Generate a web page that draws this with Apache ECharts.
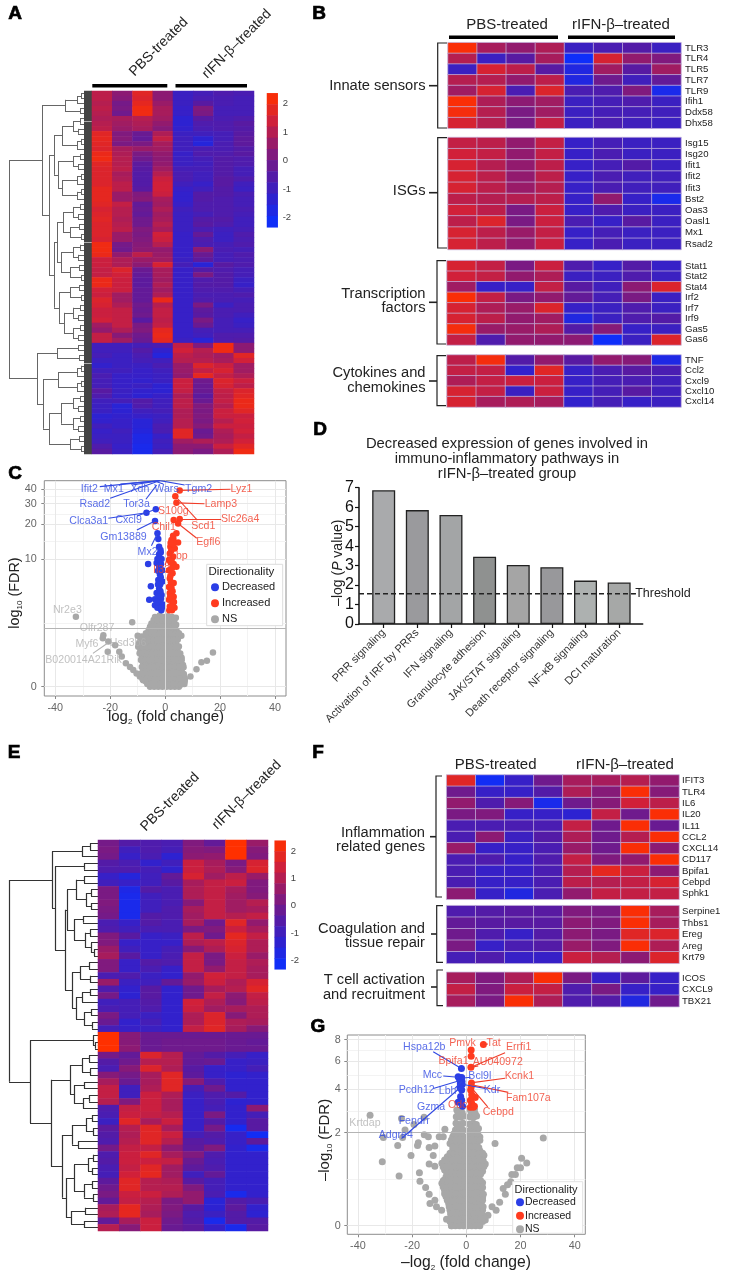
<!DOCTYPE html>
<html><head><meta charset="utf-8">
<style>html,body{margin:0;padding:0;background:#fff}#c{width:730px;height:1278px}</style>
<script src="https://cdn.jsdelivr.net/npm/echarts@6/dist/echarts.min.js"></script>
</head><body><div id="c"></div>
<script>
// ---------- DATA ----------
const groups = ['PBS-treated','rIFN-β–treated'];
const colorbarLevels = [2.15,1.76,1.37,.98,.59,.2,-.2,-.59,-.98,-1.37,-1.76,-2.15];
const colorbarTicks = [-2,-1,0,1,2];

const heatA = [
[1.1,.4,1.7,.4,-1.1,-.9,-.7,-.8],[1.1,.3,1.6,.4,-1.1,-.8,-.8,-.9],[1.0,.0,1.8,.6,-1.1,-.5,-.8,-.9],[1.1,.1,2.0,.8,-1.2,.2,-.9,-.9],
[1.0,-.1,2.0,.8,-1.2,.1,-.9,-.9],[.9,.8,1.0,.7,-1.4,-.5,-.8,-.7],[1.0,.7,.9,.5,-1.4,-.7,-.7,-.5],[1.1,.6,.8,.3,-1.3,-.8,-.7,-.6],
[1.7,.2,-.2,.9,-1.1,-1.0,-.9,-.5],[1.8,.3,-.3,1.2,-1.0,-1.4,-.9,-.4],[1.7,.1,.1,.8,-1.0,-1.6,-.8,-.4],[1.6,.8,.6,.7,-1.0,-.8,-.8,-.6],
[1.9,.9,.1,.5,-1.2,-.7,-.7,-.5],[2.0,1.0,-.1,.4,-1.1,-.9,-.6,-.7],[1.7,1.0,-.4,.5,-1.1,-1,-.6,-.7],[1.6,1.1,-.5,.7,-.9,-.9,-.6,-.9],
[1.6,.8,-.6,1.0,-.8,-1.0,-.6,-.9],[1.6,.9,-.6,1.3,-.8,-1,-.5,-.7],[1.6,1.1,-.6,1.4,-1,-1.2,-.5,-1],[1.8,1.1,-.5,1.4,-1.2,-1.0,-.6,-1.1],
[1.8,.6,.2,1.3,-1.3,-.6,-.6,-.8],[1.8,.6,.3,.8,-1.3,-.6,-.7,-.9],[1.7,1.2,-.3,.7,-1.2,-.7,-.7,-.9],[1.5,1.0,-.2,.9,-1,-.7,-.7,-.8],
[1.6,1.0,-.3,.7,-1.1,-.9,-.7,-.9],[1.7,.9,-.1,.8,-1.1,-.6,-.6,-1],[1.6,1.0,-.1,1.0,-1.1,-.5,-.7,-1.0],[1.6,1.1,.2,.8,-1.1,-.8,-1,-.9],
[1.6,.6,.1,1.4,-1.2,-.3,-1.1,-.7],[1.5,.6,.2,1.3,-1.2,-.7,-1.1,-.8],[2.0,.0,.3,1.0,-1.2,-.8,-.9,-.7],[2.0,-.1,.4,.5,-1.2,.4,-.8,-.9],
[1.9,.5,1.1,.6,-1.2,-.2,-.9,-.7],[1.3,.9,.6,.7,-1.1,-.4,-.9,-.8],[1.3,.9,.4,1.5,-.9,-1.5,-.5,-.7],[1.2,1.6,-.2,.8,-1.2,-.6,-.7,-.9],
[1.2,1.4,-.3,.8,-1.2,.1,-.6,-.9],[1.9,1.3,-.4,.7,-1.2,-.7,-.6,-1.1],[1.9,1.3,-.4,.9,-1.2,-.6,-.6,-1.2],[1.4,1.3,-.3,.7,-1.2,-.7,-.7,-.9],
[1.3,.7,-.3,.9,-1.2,-.8,-.8,-.7],[1.6,.7,-.3,1.9,-1.2,-.7,-.8,-.9],[1.5,.9,-.1,1.0,-1.2,.1,-1.1,-.8],[1.3,1.2,-.2,1.2,-1.2,-.4,-.8,-.8],
[1.3,1.2,-.1,1.2,-1.2,-.5,-.8,-1.0],[1.4,1.2,-.5,1.1,-1.2,.1,-.9,-1.2],[.7,1.2,.1,1.2,-1.2,-.2,-.9,-1.1],[.5,.9,.2,1.8,-1.2,-.9,-.9,-.9],
[1.2,.3,-.1,1.9,-1.2,-1.0,-.7,-.7],[1.2,.7,-.2,1.8,-1.1,-1.5,-.7,-.6],
[-1,-1,-.9,-.8,1.2,.2,2,.4],[-1,-1,-.6,-1.3,1.4,1.0,2,.4],[-.9,-1.1,-.8,-1.6,1.1,.9,.7,1.7],[-1.1,-1.1,-.9,-1.0,1.0,1.0,.8,1.4],
[-1.3,-1.1,-1.1,-.8,.6,1.6,1.3,.7],[-1,-1.0,-1.2,-1.0,.6,1.2,1.5,.7],[-.8,-1.2,-1.2,-1.1,.5,1.8,1.2,.9],[-.9,-1.2,-1.3,-1.1,1.3,-.1,1.6,1.3],
[-.9,-1.2,-1.1,-1.4,1.3,-.2,1.5,1.1],[-.5,-1.1,-1.3,-1.4,1.2,-.2,1.2,1.6],[-.7,-1.2,-1.4,-1.2,.9,-.4,1.1,1.7],[-1,-.9,-.6,-1.0,1.1,-.2,1.2,1.9],
[-1.1,-1.5,-.7,-1.0,1.1,.2,1.0,1.9],[-1.1,-1.4,-1.0,-.9,.9,.1,1.3,1.7],[-1.4,-1.3,-1.2,-1.1,.9,.2,1.3,1.3],[-1.3,-1.2,-1.5,-1.0,1.0,.1,1.0,1.4],
[-1.0,-1.2,-1.5,-.8,1.0,.3,1.3,1.3],[-1.2,-1.0,-1.6,-.8,1.7,-.2,.9,1.4],[-1.1,-1.1,-1.8,-1.2,1.7,-.1,.8,1.2],[-1,-1.1,-1.8,-1,.7,.9,.9,1.4],
[-.7,-1.2,-1.9,-1.1,.4,.4,1.3,1.7],[-.5,-1.1,-1.9,-.9,.4,.1,.9,2]];

const innateGenes = ['TLR3','TLR4','TLR5','TLR7','TLR9','Ifih1','Ddx58','Dhx58'];
const innateValues = [[2.2,.8,.5,.9,-1.1,-.8,-.6,-1.1],[1.0,-1.1,-.5,.8,-2.2,1.5,.5,.2],[-1.1,1.5,1.1,-.5,-1.7,.7,-.5,.7],[1.0,1.0,.5,1.1,-1.7,-.1,-1.0,-.3],[.7,1.5,-.8,1.6,-.8,-.7,.2,-1.9],[2.2,.9,.4,.7,-1.1,-.9,-.7,-1.1],[2.1,1.0,.1,.7,-1.1,-.9,-.9,-1.0],[1.5,1.0,.1,1.2,-1.1,-.8,-1.0,-1.1]];
const isgGenes = ['Isg15','Isg20','Ifit1','Ifit2','Ifit3','Bst2','Oas3','Oasl1','Mx1','Rsad2'];
const isgValues = [[1.2,1.1,.5,1.2,-1.2,-.9,-1.1,-1.1],[1.4,1.2,.5,1.2,-1.2,-.8,-1.1,-1.1],[1.5,1,.5,1.1,-1.2,-.9,-.6,-1.1],[1.5,1.1,.5,1.1,-1.2,-.8,-1.0,-1],[1.5,1.1,.6,1,-1.2,-.8,-1,-1],[1.1,1.0,1.0,1.1,-1.2,.5,-1.2,-1.9],[1.4,1.1,.1,1.3,-1.2,-.7,-1.1,-1.1],[1.1,1.6,.1,1.3,-.8,-1.2,-.5,-1.1],[1.5,1.1,.6,1.2,-1.2,-.9,-1.1,-1.1],[1.5,1.1,.5,1.3,-1.2,-.8,-1.1,-1.1]];
const tfGenes = ['Stat1','Stat2','Stat4','Irf2','Irf7','Irf9','Gas5','Gas6'];
const tfValues = [[1.5,1.2,.1,1.3,-.7,-1.2,-.6,-1.2],[1.4,1.2,.5,.9,-1.1,-1.1,-.7,-1.1],[.7,-1.2,-1.2,1.2,-.5,-1.0,.4,1.6],[2.2,1.2,.1,.5,-.3,-.9,.1,-1.1],[1.5,.9,.6,1.6,-1.2,-1.1,-.7,-1.1],[1.5,1.1,.5,.7,-1.7,-1.1,-.7,-.6],[2.1,.6,.6,.9,-.6,.3,-1.2,-1.1],[1.2,-.7,.5,.5,.4,-2.2,-1.1,1.6]];
const cytoGenes = ['TNF','Ccl2','Cxcl9','Cxcl10','Cxcl14'];
const cytoValues = [[1.1,2.1,-.6,.5,-.5,.5,.3,-1.8],[1.2,1.2,-1.3,1.7,-1.2,-.8,-.5,-.8],[.9,1.2,1.3,1.3,-1.2,-.9,-.8,-1],[1.5,1.2,-1.1,1.3,-1.2,-.9,-.5,-1.0],[1.5,.8,.9,.8,-1.3,-.9,-1.2,-1.1]];

const volcanoC_NS = [[-32.5,2.72],[-12,2.35],[-10,1.6],[-22.5,1.63],[-22.7,1.48],[-20.7,1.34],[-20.9,.93],[-18.2,1.18],[-16.7,.93],[-15.8,.76],[-14.3,.55],[-12.8,.45],[-11.6,.37],[-10.4,.28],[-9.2,.21],[-8,.13],[-6.8,.1],[-5.6,.05],[17.4,.9],[15.2,.63],[13.2,.58],[11.4,.39],[9.2,.21],[7.1,.1],[5.9,1.6],
[-3.7,2.7],[-2,2.8],[-.5,2.7],[1,2.75],[2.5,2.7],[3.9,2.65],[-5,2.28],[-3.5,2.3],[-2,2.25],[-.5,2.3],[1,2.25],[2.5,2.3],[4,2.2],[-6,1.9],[-4.5,1.95],[-3,1.9],[-1.5,1.85],[0,1.9],[1.5,1.95],[3,1.9],[4.2,1.85],
[-8.5,1.56],[-7,1.5],[-5.5,1.55],[-4,1.6],[-2.5,1.5],[-1,1.56],[.5,1.5],[2,1.56],[3.5,1.6],[4.5,1.5],[-9.5,1.26],[-8,1.2],[-6.5,1.28],[-5,1.22],[-3.5,1.26],[-2,1.3],[-.5,1.2],[1,1.26],[2.5,1.2],[4,1.26],
[-9,.99],[-7.5,1.02],[-6,.95],[-4.5,1],[-3,.97],[-1.5,1],[0,.95],[1.5,1],[3,.97],[4.5,1],[-8.5,.76],[-7,.8],[-5.5,.74],[-4,.78],[-2.5,.76],[-1,.8],[.5,.74],[2,.76],[3.5,.8],[5,.75],[6,.72],
[-8,.55],[-6.5,.58],[-5,.53],[-3.5,.55],[-2,.58],[-.5,.53],[1,.55],[2.5,.58],[4,.53],[5.5,.55],[6.5,.5],[-8,.37],[-6,.35],[-4.5,.38],[-3,.36],[-1.5,.38],[0,.35],[1.5,.37],[3,.35],[4.5,.38],[6,.35],
[-8,.21],[-6.5,.2],[-5,.22],[-3.5,.2],[-2,.21],[-.5,.22],[1,.2],[2.5,.21],[4,.22],[5.5,.2],[7,.18],[-7,.1],[-5.5,.11],[-4,.09],[-2.5,.1],[-1,.11],[.5,.09],[2,.1],[3.5,.11],[5,.09],[6.5,.08],[-5.5,0],[-4,0],[-2.5,0],[-1,0],[.5,0],[2,0],[3.5,0],[5,0],
[-4.2,2.49],[-2.8,2.49],[-1.2,2.5],[.3,2.48],[1.8,2.5],[3.3,2.47],[-5.5,2.08],[-4,2.1],[-2.5,2.07],[-1,2.08],[.6,2.1],[2,2.07],[3.6,2.08],[-7,1.72],[-5.2,1.74],[-3.8,1.72],[-2.2,1.7],[-.7,1.72],[.8,1.74],[2.3,1.72],[3.8,1.7],[5,1.72],
[-9,1.4],[-7.3,1.42],[-5.8,1.4],[-4.3,1.38],[-2.8,1.4],[-1.2,1.42],[.3,1.4],[1.8,1.38],[3.2,1.4],[4.6,1.42],[-9.8,1.12],[-8.3,1.1],[-6.8,1.13],[-5.3,1.12],[-3.8,1.1],[-2.3,1.12],[-.8,1.13],[.7,1.12],[2.2,1.1],[3.7,1.12],[5,1.13],
[-9.3,.87],[-7.8,.88],[-6.3,.86],[-4.8,.87],[-3.3,.89],[-1.8,.87],[-.3,.86],[1.2,.87],[2.7,.88],[4.2,.87],[5.5,.86],[-8.8,.65],[-7.3,.66],[-5.8,.64],[-4.3,.65],[-2.8,.67],[-1.3,.65],[.2,.64],[1.7,.65],[3.2,.66],[4.7,.65],[6,.64],
[-8.5,.45],[-7,.46],[-5.5,.44],[-4,.45],[-2.5,.47],[-1,.45],[.5,.44],[2,.45],[3.5,.46],[5,.45],[6.7,.44],[-8.8,.28],[-7.2,.29],[-5.6,.27],[-4,.28],[-2.4,.29],[-.8,.28],[.8,.27],[2.2,.28],[3.8,.29],[5.2,.28],[6.8,.27],
[-8.2,.15],[-6.8,.16],[-5.2,.15],[-3.8,.14],[-2.2,.15],[-.8,.16],[.8,.15],[2.2,.14],[3.8,.15],[5.2,.16],[7.2,.15],[-6.5,.05],[-5,.05],[-3.2,.04],[-1.8,.05],[-.2,.05],[1.2,.04],[2.8,.05],[4.2,.05],[5.8,.04],[7,.05]];
const volcanoC_Decreased = [[-3.4,26.9],[-6.8,25.2],[-3.7,21.4],[-2.8,16.8],[-2.5,15],[-2.2,12.8],[-1.7,12],[-2.2,11],[-1.3,10],[-6.2,9],[-3.1,9.2],[-2.2,8.5],[-1,7.9],[-1.9,7.2],[-2.5,6.4],[-1,6.2],[-5.2,5.6],[-2.2,5.3],[-3.1,4.8],[-1.3,4.6],[-5.8,4.1],[-3.7,4.15],[-2.5,3.85],[-1,3.7],[-3.7,3.6],[-1.9,3.4],[-1.5,9],[-2.6,7.8],[-1.8,5.8],[-1.5,4.2],[-2.8,3.4],[-1.4,3.2],[-1.6,11.4],[-2.8,10],[-1.6,6.8],[-2.6,5.8],[-1.7,5],[-2.4,4.4],[-3,3.9],[-1.2,3.4]];
const volcanoC_Increased = [[3.7,34.6],[4.1,30.5],[5.3,38.8],[5.3,22.3],[3.1,21.8],[4.7,20.4],[4.1,16.8],[2.9,16],[2.3,14.7],[4.7,14],[1.9,12.8],[3.5,12.4],[1.7,11.2],[2.9,10.5],[1.4,9.8],[3.1,9],[4.1,8.5],[1.4,7.9],[2.7,7.4],[1.7,6.6],[3.1,6],[1.4,5.5],[2.7,5],[1.7,4.8],[3.1,4.4],[1.4,4.1],[2.7,3.7],[1.7,3.5],[3.4,3.4],[2.2,11.8],[2.6,8.3],[2.1,6.1],[2.2,4.3],[1.5,3.2],[2.5,3.2],[3,13.5],[2,9.3],[3,15],[2,13.8],[2.4,10],[1.9,7],[2.3,5.4],[1.8,4.4],[3.2,3.9],[2.2,3.5]];

const pathwayNames = ['PRR signaling','Activation of IRF by PRRs','IFN signaling','Granulocyte adhesion','JAK/STAT signaling','Death receptor signaling','NF-κB signaling','DCI maturation'];
const pathwayValues = [6.87,5.85,5.6,3.45,3.03,2.92,2.23,2.13];
const pathwayColors = ['#a9aaac','#9a9a9d','#a3a5a6','#8f9190','#a5a5a5','#98989b','#adb1b0','#a6a8a7'];
const pathwayThreshold = 1.556;

const heatE = [
[0,-.6,-.7,-.8,.2,-.3,2.3,.6],[.1,-1.0,-.7,-.9,.3,.2,2.3,.3],[0,-1.2,-.8,-1.4,.4,.5,2.3,.2],[-.6,-.8,-1.3,-1.0,1.3,.8,.1,1.5],[-.7,-.7,-.9,-1.3,1.3,.9,.3,1.6],
[-1.2,-1.6,-1.0,-.3,1.5,.7,1.1,.6],[-1.0,-1.2,-1,-.5,.8,1.2,1.3,.2],[.1,-1.8,-.6,-.8,.9,1.2,.8,.2],[.1,-1.9,-1,-.8,.9,1.2,.7,.3],[.2,-1.9,-1,-.8,.3,1.2,.7,1.0],
[.1,-1.9,-1.0,-.7,.8,1.2,.7,.8],[0,-1.9,-.6,-.7,.7,1.2,1.0,1.2],[-.8,-1.2,-.6,-.8,.8,-.1,1.7,.5],[-.7,-1.0,-.8,-.8,.1,.2,1.3,.8],[.2,-.5,-1.2,-1.1,1.1,-.1,1.8,1.2],
[.2,-1.2,-1.2,-1.2,.9,1.1,1.6,.9],[.6,-1,-1.2,-.9,.3,.9,1.5,.9],[.8,-.5,-1.2,-.8,1.2,.1,1.3,.6],[.2,-1.2,-.6,-.7,1.2,.1,1.2,.9],[.2,-1.2,-.8,-1.2,1.2,.5,1.2,.8],
[-.8,-.7,-1.1,-1.3,.5,1.4,1.2,.8],[.6,-1.1,-1,-.3,.6,1.3,.9,1.5],[-.7,-1.3,-.5,-1.3,-.1,.8,1.0,1.7],[0,-1.4,-.5,-1.3,-.1,1.2,.4,1.2],[-1,-.9,-.6,-1.3,1.4,.9,.3,1.1],
[-.8,-.9,-.7,-1.3,1.3,.7,.8,.9],[.1,-.9,-1.1,-1.3,.9,1.6,.3,.9],[-.2,-1.3,-.9,-1.3,.9,1.6,.9,.8],[-.9,-1.2,-1.1,-1.3,1.2,1.7,.8,.3],
[2.3,.3,-.2,-.2,-.2,-.2,-.2,-.2],[2.3,.3,-.2,-.1,-.1,-.1,-.2,-.3],[2.3,.4,-.2,-.1,-.1,-.1,-.2,-.2],
[0,-.3,1.6,1,-.3,-.6,-.9,-1.2],[-.6,-.1,1,1,-.3,-.2,-1.2,-1.1],[-.8,.3,1.6,.9,-.5,-1.2,-1.2,-.9],[.3,0,.8,1.7,-.4,-1.2,-1.4,-1.3],[.8,-.2,.8,1.7,.3,-.7,-1.3,-1.3],
[1.2,-1.0,.9,1.7,-.9,-.1,-1.3,-1.3],[1.2,-1.0,1.3,.9,-1.1,-.7,-.6,-1.3],[1.0,.2,1.3,.8,-1.2,-.8,-1.4,-1.3],[-.7,1.2,1.3,.8,-1.2,-.9,-1.3,.4],[-.8,1.3,1.2,1.0,-1.2,.1,-1.3,-.9],
[-1.1,1.7,.8,1.3,-1.2,-.6,-1.3,-.5],[-.4,1.0,1.7,.8,-1.2,0,-2.0,-.5],[-.6,.9,1.7,1.3,-.9,-.6,-1.2,-2.1],[-.7,1.0,1.7,1.0,-.5,-.7,-1.2,-.4],[0,1.2,1.2,.4,-.4,.2,-1.3,-1.9],
[-.7,1.3,1.7,.8,.2,-.7,-1.3,-1.3],[-.6,1.3,1.3,1.2,-.2,-.8,-1.3,-1.3],[-.8,1.2,1.7,.7,-.4,-.7,-1.3,-1.3],[-.9,1.4,1.8,.7,-1,-.3,-1.3,-1.3],[-.4,1.7,1.0,.9,-.5,-.9,-1.3,-1.3],
[-.1,1.7,1.0,1.0,.2,-.9,-1.3,-1.3],[.1,1.3,1.3,.9,.5,-.8,-1.9,-1.3],[-.3,1.2,1.0,.1,.5,-1.5,-.6,-.8],[.8,1.8,.9,.2,-.5,-1.4,-.4,-1.3],[.9,1.8,.8,.1,-.7,-1.1,-.6,-1.4],
[-.3,.8,1.3,-.1,-.6,-1.9,-.6,-.6],[1,.3,1.3,-.2,-.4,-1.2,-1.9,-.5]];

const inflamGenes = ['IFIT3','TLR4','IL6','IL20','IL11','CCL2','CXCL14','CD117','Bpifa1','Cebpd','Sphk1'];
const inflamValues = [[1.7,-2.1,-1.2,-.1,.8,.8,1,.5],[-.1,-1.2,-1.2,-.6,.9,.3,2.2,.3],[.5,-.7,.3,-1.9,-.1,.3,1.4,1.1],[.1,.2,-1.2,-1.2,-1.4,1.2,-.1,2.2],[-.8,-.8,-.8,-.8,1.2,-.1,2.2,-.2],[-.8,.4,-1.1,-.6,.9,-.1,1,2.2],[.6,-1.2,-1.2,-.8,.6,-.1,2.2,.4],[-.8,-.7,-1.2,-.7,1.2,.2,.5,2.2],[-.8,-1.2,-1.2,-.8,1,1.8,1.3,.4],[-.8,-1.2,-1.2,-.8,1.1,1,1.2,1.5],[.4,-1.2,-1.7,-.8,.5,1.2,1.2,1.2]];
const coagGenes = ['Serpine1','Thbs1','Ereg','Areg','Krt79'];
const coagValues = [[-.7,-.6,-.5,-.5,.2,.1,2.2,.8],[-.3,-.5,-.5,-.5,.4,.2,2.2,.8],[-.1,-.7,-1.2,-.6,.4,.1,1.7,1.6],[.1,-1.2,-.8,-.6,.6,.2,2.2,.9],[-.9,-.7,-1.2,-1.2,1.3,1,.4,1.6]];
const tcellGenes = ['ICOS','CXCL9','TBX21'];
const tcellValues = [[.8,.2,.9,2.2,.1,-1.2,-.4,-1.2],[1.2,.2,1.3,1.2,-.7,.1,-1.2,-1.2],[.8,.1,2.2,.9,-.7,-.6,-1.7,-.1]];

const volcanoG_NS = [[-35.5,2.69],[-30.6,1.83],[-31,1.13],[-25.3,1.58],[-24.8,.8],[-23.9,2.55],[-22.6,2.1],[-23.5,1.83],[-20.4,1.29],[-19.3,2.3],[-17.7,1.66],[-18,1.58],[-15.6,2.6],[-15.5,1.93],[-14,1.86],[-13.7,1.52],[-11.6,1.56],[-12.2,1.29],[-10,1.86],[-7.9,2.12],[-8.5,1.86],[-17.3,.87],[-17.1,.69],[-15,.57],[-13.7,1.07],[-11.6,1.02],[-8.5,.7],[-13.4,.3],[-13.7,.45],[-11.6,.35],[-11,.25],[-9.1,.2],[-7.3,.08],[-5.4,0],[10.6,1.64],[28.4,1.82],[20.4,1.22],[22.3,1.1],[18.8,.98],[20,.98],[18.1,.83],[16.8,.83],[16.4,.68],[14.4,.45],[12.3,.32],[11,.2],[7,.07],[13.6,.55],[15.2,.62],[8,.13],[9.5,.25],
[-2,3.5],[-3.5,2.92],[-2,2.92],[1.5,2.92],[3,2.95],[-3.7,2.62],[-2.2,2.6],[-1,2.64],[1.3,2.62],[2.7,2.6],[3.8,2.65],[-3.8,2.35],[-2.5,2.3],[-1.2,2.35],[1.2,2.32],[2.5,2.35],[3.7,2.3],[-4,2.1],[-2.6,2.05],[-1.2,2.1],[1.2,2.08],[2.6,2.1],[4.5,2.15],[-5,1.86],[-3.5,1.82],[-2,1.88],[-.8,1.84],[.8,1.86],[2,1.82],[3.5,1.88],[5,1.85],[-6,1.64],[-4,1.6],[-2.5,1.66],[-1,1.62],[1,1.64],[2.5,1.6],[4,1.66],[-5,1.44],[-3.5,1.4],[-2,1.46],[-.8,1.42],[.8,1.44],[2,1.4],[3.5,1.46],[5,1.42],
[-7,1.26],[-5.5,1.22],[-4,1.28],[-2.5,1.24],[-1,1.26],[1,1.22],[2.5,1.28],[4,1.24],[5.5,1.26],[6.5,1.3],[-9,1.09],[-7.5,1.05],[-6,1.1],[-4.5,1.07],[-3,1.09],[-1.5,1.05],[-.3,1.1],[1.2,1.07],[2.7,1.09],[4,1.05],[5.5,1.1],[7,1.07],[-8,.93],[-6,.9],[-4.5,.95],[-3,.92],[-1.5,.93],[0,.9],[1.5,.95],[3,.92],[4.5,.93],[6,.9],
[-7.5,.78],[-6,.75],[-4.5,.8],[-3,.77],[-1.5,.78],[0,.75],[1.5,.8],[3,.77],[4.5,.78],[-9,.65],[-7.5,.62],[-6,.66],[-4.5,.63],[-3,.65],[-1.5,.62],[0,.66],[1.5,.63],[3,.65],[4.5,.62],[6,.66],[-8,.52],[-6.5,.5],[-5,.54],[-3.5,.51],[-2,.52],[-.5,.5],[1,.54],[2.5,.51],[4,.52],[5.5,.5],
[-7.5,.41],[-6,.39],[-4.5,.42],[-3,.4],[-1.5,.41],[0,.39],[1.5,.42],[3,.4],[4.5,.41],[6,.39],[-6.5,.3],[-5,.29],[-3.5,.31],[-2,.3],[-.5,.29],[1,.31],[2.5,.3],[4,.29],[5.5,.31],[-6,.2],[-4.5,.19],[-3,.21],[-1.5,.2],[0,.19],[1.5,.21],[3,.2],[4.5,.19],[6,.2],[-5.5,.11],[-4,.1],[-2.5,.12],[-1,.11],[.5,.1],[2,.12],[3.5,.11],[5,.1],[6.5,.11],[-6,.05],[-4.5,.04],[-3,.05],[-1.5,.04],[0,.05],[1.5,.04],[3,.05],[4.5,.04],[6,.05],[-5.5,0],[-4,0],[-2.5,0],[-1,0],[.5,0],[2,0],[3.5,0],[5,0],
[-3,2.75],[-1.5,2.78],[1.8,2.76],[3.3,2.75],[-3.3,2.2],[-2,2.22],[1.9,2.2],[3.2,2.22],[-4.5,1.97],[-3,1.98],[-1.6,1.96],[1.4,1.97],[2.8,1.98],[4.2,1.96],[-5.5,1.75],[-3.8,1.74],[-2.2,1.76],[-1,1.75],[1.2,1.74],[2.4,1.76],[3.8,1.75],[5,1.74],
[-5,1.53],[-3.2,1.52],[-1.8,1.54],[-.6,1.53],[.8,1.52],[2.2,1.54],[3.2,1.53],[4.6,1.52],[-6,1.35],[-4.5,1.34],[-3,1.36],[-1.5,1.35],[0,1.34],[1.5,1.36],[3,1.35],[4.5,1.34],[6,1.35],[-8,1.17],[-6.5,1.16],[-5,1.18],[-3.5,1.17],[-2,1.16],[-.7,1.18],[.7,1.17],[2,1.16],[3.3,1.18],[4.8,1.17],[6.2,1.16],
[-8.5,1],[-7,1.01],[-5.3,.99],[-3.8,1],[-2.3,1.01],[-.8,.99],[.8,1],[2.3,1.01],[3.7,.99],[5.2,1],[6.5,1.01],[-7.2,.85],[-5.2,.86],[-3.7,.84],[-2.2,.85],[-.7,.86],[.8,.84],[2.2,.85],[3.8,.86],[5.3,.84],
[-8.2,.71],[-6.8,.7],[-5.2,.72],[-3.8,.71],[-2.2,.7],[-.7,.72],[.8,.71],[2.2,.7],[3.8,.72],[5.2,.71],[-8.5,.58],[-7,.57],[-5.5,.59],[-4,.58],[-2.5,.57],[-1,.59],[.5,.58],[2,.57],[3.5,.59],[5,.58],[6,.57],
[-8,.46],[-6.7,.45],[-5.2,.47],[-3.7,.46],[-2.2,.45],[-.7,.47],[.8,.46],[2.2,.45],[3.7,.47],[5.2,.46],[6.3,.45],[-7,.35],[-5.5,.34],[-4,.36],[-2.5,.35],[-1,.34],[.5,.36],[2,.35],[3.5,.34],[5,.36],[6,.35],
[-6.3,.25],[-5.3,.24],[-3.7,.26],[-2.2,.25],[-.7,.24],[.8,.26],[2.2,.25],[3.7,.24],[5.2,.26],[6.2,.25],[-5.8,.15],[-4.8,.16],[-3.2,.14],[-1.8,.15],[-.3,.16],[1.2,.14],[2.8,.15],[4.2,.16],[5.7,.14],[-5,.08],[-3.5,.07],[-2,.08],[-.5,.09],[1,.08],[2.5,.07],[4,.08],[5.5,.09]];
const volcanoG_Decreased = [[-1.8,5.4],[-3,4.8],[-1.7,4.75],[-2.3,4.55],[-1.5,4.3],[-2.3,4.1],[-1.7,3.96],[-2.1,3.6],[-3,3.3],[-1.4,3.1],[-1.7,3.4],[-1.6,4.5],[-2.2,4.35],[-2.6,4.7]];
const volcanoG_Increased = [[6.3,7.5],[1.8,6.96],[1.8,6.4],[1.7,5.5],[1.9,4.4],[1.8,4.15],[1.6,3.96],[2.4,3.6],[3.3,3.55],[1.5,3.4],[2,3.25],[1.5,3.05],[2.6,3.05],[3,3.1],[2,3.7]];

const labelColors = {blue:'#3048e2',red:'#f03c28',gray:'#b2b2b2'};
const labelsC = [['Ifit2',-27.6,39.9,'blue'],['Mx1',-18.7,39.9,'blue'],['Xdh',-9.2,39.9,'blue'],['Wars',.5,39.9,'blue'],['Tgm2',12.2,39.9,'blue'],['Rsad2',-25.6,29.8,'blue'],['Tor3a',-10.4,29.8,'blue'],['Clca3a1',-27.8,21.4,'blue'],['Cxcl9',-13.3,21.8,'blue'],['Gm13889',-15.2,15.7,'blue'],['Mx2',-6.4,11.4,'blue'],
['Lyz1',27.8,39.9,'red'],['Lamp3',20.3,30,'red'],['S100g',3,26,'red'],['Slc26a4',27.3,22.1,'red'],['Scd1',13.9,19.3,'red'],['Chil1',-.5,18.9,'red'],['Egfl6',15.7,14.1,'red'],['Lbp',5,10.7,'red'],['Il33',-1.3,7.9,'red'],
['Nr2e3',-35.6,3.2,'gray'],['Olfr287',-24.8,2.03,'gray'],['Myf6',-28.5,1.21,'gray'],['Hsd3b6',-13.5,1.26,'gray'],['B020014A21Rik',-29.7,.65,'gray']];
const linksC = [[-23.8,41.7,-1.9,46.8,'blue'],[-16.3,43.9,-1.9,46.8,'blue'],[-12,43,-2.1,46.8,'blue'],[-.7,43.9,-3.1,45.9,'blue'],[7.1,43,-1.9,46.8,'blue'],[-7,32.7,-3.1,43,'blue'],[-20,33.3,-3.1,45.9,'blue'],[-20.7,22.6,-6.8,25.2,'blue'],[-10.3,23.6,-3.4,26.9,'blue'],[-10.3,17.9,-3.7,21.4,'blue'],[-5,13.1,-2.8,16.8,'blue'],
[23.8,39.7,5.3,38.8,'red'],[14.3,30,4.1,30.5,'red'],[20.4,22.2,5.3,22.3,'red'],[11.7,21.8,4.1,34,'red'],[11.5,15.2,4.7,20.4,'red'],[0,8.8,1.7,11.8,'red'],[-26.3,.87,-21,1.26,'gray']];
const labelsG = [['Hspa12b',-15.5,7.28,'blue'],['Mcc',-12.5,4.9,'blue'],['Bcl9l',5,4.88,'blue'],['Pcdh12',-18.3,3.96,'blue'],['Lbh',-6.9,3.9,'blue'],['Kdr',9.5,3.94,'blue'],['Gzma',-13,3.07,'blue'],['Fendrr',-19.2,2.44,'blue'],['Adgre4',-26,1.92,'blue'],['Krtdap',-37.4,2.37,'gray'],
['Pmvk',-1.4,7.6,'red'],['Tat',10.1,7.68,'red'],['Errfi1',19.3,7.2,'red'],['Bpifa1',-4.7,5.99,'red'],['AU040972',11.6,5.93,'red'],['Kcnk1',19.6,4.86,'red'],['Fam107a',22.9,3.52,'red'],['Cebpd',11.8,2.81,'red'],['Odc1',-2.1,3.16,'red']];
const linksG = [[-12.2,6.8,-1.8,5.4,'blue'],[-8.5,4.86,-3,4.77,'blue'],[1.6,4.77,-1.7,4.7,'blue'],[-12.2,4.06,-2.3,4.55,'blue'],[-4.2,4.06,-1.7,4.5,'blue'],[6.9,4.06,-1.1,4.3,'blue'],[-23.9,1.8,-2.3,4.1,'blue'],
[14.3,6.7,1.7,5.5,'red'],[14.3,4.7,1.6,4.4,'red'],[15.5,3.83,1.4,4.3,'red'],[7.9,3.07,1.4,4.2,'red'],[4.4,5.6,2,5.5,'red'],[8,7.55,6.3,7.5,'red']];

const volcanoXTicks = [-40,-20,0,20,40], volcanoXMinor = [-30,-10,10,30];
const volcanoCYTicks = [0,10,20,30,40], volcanoCYMinor = [2.3,14.2,24.6,34.7];
const volcanoGYTicks = [0,2,4,6,8], volcanoGYMinor = [.73,2.87,4.93,6.94];
const fdrThreshold = 2;

// Dendrogram merge trees: [merge height, child, child...], 1 = a single row.
const c3=[15,[11,1,1],1], c4=[19,[12,1,1],[14,1,1]], c4b=[22,[13,1,1],[11,1,1]];
const treeA = [83,
  [50,[27,c3,[12,1,1]],
      [43,[38,[30,c4,c3],[34,c4,[30,c3,c3]]],
          [38,[35,[29,c4,c4b],[31,c4,c4b]],[33,c4b,[28,c4,c4]]]]],
  [55,[35,[14,1,1],[13,1,1]],
      [49,[34,c3,c3],[43,[31,c4,c4],c4b]]]];
const treeE = [89,
  [46,[16,[8,1,1],1],
      [43,[14,1,1],
          [33,[31,[22,[14,1,1],[12,[7,1,1],[7,1,1]]],[24,[15,1,1],[13,[8,1,1],[7,1,[4,1,1]]]]],
              [26,[18,[9,1,1],[8,1,1]],[22,[16,[8,1,1],1],[14,[7,1,1],[6,1,1]]]]]]],
  [68,[5,1,[3,1,1]],
      [47,[28,[16,[9,1,1],[8,1,1]],[24,[14,1,1],[15,[9,1,1],1]]],
          [36,[26,[12,[6,1,1],[5,1,1]],[20,1,1]],
              [32,[24,[10,[5,1,1],[6,1,1]],[14,[6,1,1],[5,1,1]]],[27,[13,1,1],[14,1,1]]]]]]];

// ---------- BUILD ----------
const FONT = '"Liberation Sans",Arial,sans-serif';
const grids=[],xAxes=[],yAxes=[],series=[],gfx=[],heatIdx=[];
const toT = v => Math.log10(1+v);
const cols = ['1','2','3','4','5','6','7','8'];
function addGrid(l,t,r,b){grids.push({left:l,top:t,width:r-l,height:b-t,show:false,containLabel:false});return grids.length-1;}

function addHeat(rect,rows,names,border,margin){
  const g=addGrid(...rect);
  const xi=xAxes.length, yi=yAxes.length;
  xAxes.push({gridIndex:g,type:'category',data:cols,show:false});
  yAxes.push({gridIndex:g,type:'category',inverse:true,position:'right',show:!!names,data:names||rows.map((_,i)=>i),
    axisLine:{show:false},axisTick:{show:false},axisLabel:{show:!!names,interval:0,fontFamily:FONT,fontSize:9.6,color:'#222',margin:margin||4}});
  const data=[];rows.forEach((r,ri)=>r.forEach((v,ci)=>data.push([ci,ri,v])));
  heatIdx.push(series.length);
  series.push({type:'heatmap',xAxisIndex:xi,yAxisIndex:yi,data,silent:true,
    itemStyle:border?{borderColor:'rgba(196,178,220,.9)',borderWidth:.8}:{}});
}
function addColorbar(rect,tmax,tmin){
  const g=addGrid(...rect);
  const xi=xAxes.length, yi=yAxes.length;
  xAxes.push({gridIndex:g,type:'category',data:['c'],show:false});
  yAxes.push({gridIndex:g,type:'category',inverse:true,data:colorbarLevels.map(String),show:false});
  yAxes.push({gridIndex:g,type:'value',position:'right',min:tmin,max:tmax,axisLine:{show:false,onZero:false},axisTick:{show:false},splitLine:{show:false},
    axisLabel:{customValues:colorbarTicks,fontFamily:FONT,fontSize:9.5,color:'#444',margin:5,formatter:v=>v<0?'-'+Math.abs(v):String(v)}});
  heatIdx.push(series.length);
  series.push({type:'heatmap',xAxisIndex:xi,yAxisIndex:yi,data:colorbarLevels.map((v,i)=>[0,i,v]),silent:true});
}
function layoutTree(tree){
  let row=0;const segs=[];
  (function walk(n){
    if(n===1){const y=row++;return {h:0,y};}
    const kids=n.slice(1).map(walk);
    const ys=kids.map(k=>k.y);const lo=Math.min(...ys),hi=Math.max(...ys);
    segs.push([[n[0],lo],[n[0],hi]]);
    kids.forEach(k=>segs.push([[k.h,k.y],[n[0],k.y]]));
    return {h:n[0],y:(lo+hi)/2};
  })(tree);
  return segs;
}
function addDendro(rect,tree,nrows,color,width,band){
  const g=addGrid(...rect);
  const xi=xAxes.length, yi=yAxes.length, maxH=rect[2]-rect[0];
  xAxes.push({gridIndex:g,type:'value',min:0,max:maxH,inverse:true,show:false});
  yAxes.push({gridIndex:g,type:'value',min:-.5,max:nrows-.5,inverse:true,show:false});
  series.push({type:'lines',coordinateSystem:'cartesian2d',xAxisIndex:xi,yAxisIndex:yi,polyline:false,silent:true,
    lineStyle:{color,width,opacity:1},data:layoutTree(tree).map(c=>({coords:c}))});
  if(band){
    const d=[];for(let i=0;i<nrows;i++)d.push({coords:[[0,i],[band,i]]});
    series.push({type:'lines',coordinateSystem:'cartesian2d',xAxisIndex:xi,yAxisIndex:yi,silent:true,
      lineStyle:{color:'#444',width:(rect[3]-rect[1])/nrows+.4,opacity:1},data:d});
  }
}
function addVolcano(rect,xr,tr,yTicks,yMinor,pts,labels,links,size,xm,ym){
  const g=addGrid(...rect);grids[g].show=true;grids[g].borderColor='#8c8c8c';grids[g].borderWidth=1;grids[g].backgroundColor='#fff';
  const xi=xAxes.length, yi=yAxes.length;
  xAxes.push({gridIndex:g,type:'value',min:xr[0],max:xr[1],splitLine:{show:false},axisLine:{show:false,onZero:false},
    axisTick:{customValues:volcanoXTicks,length:3,lineStyle:{color:'#888'}},
    axisLabel:{customValues:volcanoXTicks,fontFamily:FONT,fontSize:10.8,color:'#666',margin:xm,formatter:v=>String(v)}});
  yAxes.push({gridIndex:g,type:'value',min:tr[0],max:tr[1],splitLine:{show:false},axisLine:{show:false,onZero:false},
    axisTick:{customValues:yTicks.map(toT),length:3,lineStyle:{color:'#888'}},
    axisLabel:{customValues:yTicks.map(toT),fontFamily:FONT,fontSize:10.8,color:'#666',margin:ym,formatter:v=>String(Math.round(Math.pow(10,v)-1))}});
  const base={coordinateSystem:'cartesian2d',xAxisIndex:xi,yAxisIndex:yi,silent:true};
  const vline=(x)=>({coords:[[x,tr[0]],[x,tr[1]]]}), hline=(t)=>({coords:[[xr[0],t],[xr[1],t]]});
  series.push({...base,type:'lines',z:1,lineStyle:{color:'#f3f3f3',width:1,opacity:1},data:[...volcanoXMinor.map(vline),...yMinor.map(v=>hline(toT(v)))]});
  series.push({...base,type:'lines',z:1,lineStyle:{color:'#e8e8e8',width:1,opacity:1},data:[...volcanoXTicks.map(vline),...yTicks.map(v=>hline(toT(v)))]});
  const sc=(name,arr,color,z)=>series.push({...base,type:'scatter',name,z,symbolSize:size,itemStyle:{color,opacity:1},data:arr.map(d=>[d[0],toT(d[1])])});
  sc('NS',pts.ns,'#a8a8a8',2);
  sc('Decreased',pts.dec,'#2b3ee6',3);
  sc('Increased',pts.inc,'#ff3b1f',3);
  series.push({...base,type:'lines',z:4,lineStyle:{color:'#b4b4b4',width:1.2,opacity:1},data:[hline(toT(fdrThreshold))]});
  series.push({...base,type:'lines',z:4,lineStyle:{color:'#d8d8d8',width:1,opacity:1},data:[vline(0)]});
  ['blue','red','gray'].forEach(k=>{
    series.push({...base,type:'lines',z:5,lineStyle:{color:labelColors[k],width:1.1,opacity:1},
      data:links.filter(l=>l[4]===k).map(l=>({coords:[[l[0],toT(l[1])],[l[2],toT(l[3])]]}))});
  });
  series.push({...base,type:'scatter',z:6,symbolSize:0,itemStyle:{color:'transparent'},
    data:labels.map(l=>({name:l[0],value:[l[1],toT(l[2])],label:{color:labelColors[l[3]]}})),
    label:{show:true,position:'inside',fontFamily:FONT,fontSize:10.6,formatter:'{b}'}});
}

// Text helpers
function T(text,x,y,size,o={}){
  gfx.push({type:'text',x,y,rotation:o.rot||0,z:o.z||20,silent:true,style:{text,fontFamily:FONT,fontSize:size,fontWeight:o.weight||'normal',
    fill:o.color||'#222',align:o.align||'center',verticalAlign:'middle',rich:o.rich,stroke:o.stroke,lineWidth:o.lw||0}});
}
function Rect(x,y,w,h,fill,stroke,z){gfx.push({type:'rect',z:z||20,silent:true,shape:{x,y,width:w,height:h},style:{fill,stroke:stroke||null,lineWidth:stroke?1:0}});}
function Bracket(x0,x1,y0,y1,xt,yt){
  gfx.push({type:'polyline',z:20,silent:true,shape:{points:[[x1,y0],[x0,y0],[x0,y1],[x1,y1]]},style:{stroke:'#222',lineWidth:1.2,fill:null}});
  gfx.push({type:'line',z:20,silent:true,shape:{x1:xt,y1:yt,x2:x0,y2:yt},style:{stroke:'#222',lineWidth:1.6}});
}
const Letter=(t,x,y)=>T(t,x,y,19,{weight:'bold',color:'#000',stroke:'#000',lw:.7});
const richOf=(s)=>({a:{fontFamily:FONT,fontSize:s,color:'#222',lineHeight:s+3},s:{fontFamily:FONT,fontSize:8,color:'#222',verticalAlign:'bottom',lineHeight:s+3},i:{fontFamily:FONT,fontSize:s,fontStyle:'italic',color:'#222',lineHeight:s+3}});

// Panel A
addDendro([9,91,92,454],treeA,heatA.length,'#666',1,8);
addHeat([92,91,254,454],heatA,null,false);
addColorbar([267,93.3,277.7,227.3],2.35,-2.33);
Letter('A',15,14);
T(groups[0],158.7,47,14,{rot:Math.PI/4});
T(groups[1],236.7,44,14,{rot:Math.PI/4});
Rect(92.3,84,75,3.4,'#000');Rect(175.5,84,71.5,3.4,'#000');

// Panel B
addHeat([448,42.7,681,128.3],innateValues,innateGenes,true);
addHeat([448,137.5,681,249.5],isgValues,isgGenes,true);
addHeat([447,260.7,681,345],tfValues,tfGenes,true);
addHeat([447,355,681,407],cytoValues,cytoGenes,true);
Letter('B',319,14);
T(groups[0],507,25,15);T(groups[1],621,25,15);
Rect(449,35.5,109,3.4,'#000');Rect(568,35.5,107,3.4,'#000');
const gl=(t,y)=>T(t,425.5,y,14.7,{align:'right'});
gl('Innate sensors',85.5);gl('ISGs',191);gl('Transcription',293.7);gl('factors',308.3);gl('Cytokines and',373.3);gl('chemokines',388.3);
Bracket(437.7,447,43,128,429,85.7);Bracket(437.7,447,137.7,248,429,192.7);Bracket(437,446,260.7,344,429,302.3);Bracket(437,446,355.7,405.7,429,381);

// Panel C
addVolcano([44.3,480.7,286,696],[-44,44],[-.076,1.679],volcanoCYTicks,volcanoCYMinor,
  {ns:volcanoC_NS,dec:volcanoC_Decreased,inc:volcanoC_Increased},labelsC,linksC,6.5,7,7.5);
Letter('C',15,474);
T('{a|log}{s|10}{a| (FDR)}',15,593,14.4,{rot:Math.PI/2,rich:richOf(14.4)});
T('{a|log}{s|2}{a| (fold change)}',166,717,15,{rich:richOf(15)});
Rect(206.7,564.3,76,61.4,'#fff','#dddddd',19);
T('Directionality',208.5,572,11.5,{align:'left',z:22});

// Panel D
{
  const g=addGrid(359,487.7,642.7,624);
  const xi=xAxes.length, yi=yAxes.length;
  const idx=pathwayNames.map((_,i)=>i);
  xAxes.push({gridIndex:g,type:'value',min:-.734,max:7.7,splitLine:{show:false},
    axisLine:{onZero:false,lineStyle:{color:'#111',width:1.5}},axisTick:{customValues:idx,length:4,lineStyle:{color:'#111',width:1.2}},
    axisLabel:{customValues:idx,rotate:45,interval:0,fontFamily:FONT,fontSize:11,color:'#333',margin:7,formatter:v=>pathwayNames[v]}});
  yAxes.push({gridIndex:g,type:'value',min:0,max:7,interval:1,splitLine:{show:false},
    axisLine:{show:true,onZero:false,lineStyle:{color:'#111',width:1.5}},axisTick:{show:true,length:4,lineStyle:{color:'#111',width:1.2}},
    axisLabel:{fontFamily:FONT,fontSize:16,color:'#111',margin:5}});
  series.push({type:'bar',xAxisIndex:xi,yAxisIndex:yi,barWidth:23,silent:true,
    itemStyle:{borderColor:'#222',borderWidth:1.3},
    data:pathwayValues.map((v,i)=>({value:[i,v],itemStyle:{color:pathwayColors[i]}}))});
  series.push({type:'line',xAxisIndex:xi,yAxisIndex:yi,showSymbol:false,silent:true,z:5,
    lineStyle:{color:'#222',width:1.6,type:[5,3]},data:[[-.734,pathwayThreshold],[7.5,pathwayThreshold]],
    endLabel:{show:true,formatter:'-Threshold',fontFamily:FONT,fontSize:12.5,color:'#222',distance:0,offset:[-5,0]}});
}
Letter('D',320,430);
T('Decreased expression of genes involved in',507,444,14.8);
T('immuno-inflammatory pathways in',507,459,14.8);
T('rIFN-β–treated group',507,474,14.8);
T('{a|–log (}{i|P}{a| value)}',338,562.7,14,{rot:Math.PI/2,rich:richOf(14)});

// Panel E
addDendro([8.5,840,98,1231],treeE,heatE.length,'#333',1.2,0);
addHeat([98,840,268,1231],heatE,null,false);
addColorbar([274.7,840.7,285.7,969.3],2.376,-2.314);
Letter('E',14,753);
T(groups[0],170,802,14,{rot:Math.PI/4});
T(groups[1],246.7,795,14,{rot:Math.PI/4});

// Panel F
addHeat([446.7,775,679,899.3],inflamValues,inflamGenes,true,3);
addHeat([446.7,905.7,679,963.3],coagValues,coagGenes,true,3);
addHeat([446.7,972.3,679,1006.7],tcellValues,tcellGenes,true,3);
Letter('F',318,753);
T(groups[0],495.7,765,15);T(groups[1],625,765,15);
const fl=(t,y)=>T(t,425,y,14.7,{align:'right'});
fl('Inflammation',832.7);fl('related genes',847);fl('Coagulation and',928.7);fl('tissue repair',943);fl('T cell activation',980);fl('and recruitment',995);
Bracket(436,442,776,897,430,836.7);Bracket(436.7,443,905.7,962.3,431,934);Bracket(437,443,970,1005.7,431,987);

// Panel G
addVolcano([347.3,1035,585.3,1234.3],[-43.9,43.9],[-.044,.978],volcanoGYTicks,volcanoGYMinor,
  {ns:volcanoG_NS,dec:volcanoG_Decreased,inc:volcanoG_Increased},labelsG,linksG,7,6.5,6.5);
Letter('G',318,1027);
T('{a|–log}{s|10}{a| (FDR)}',325,1140,15,{rot:Math.PI/2,rich:richOf(15)});
T('{a|–log}{s|2}{a| (fold change)}',466,1262.7,15.7,{rich:richOf(15.7)});
Rect(512.7,1181.7,70,51.6,'#fff','#e2e2e2',19);
T('Directionality',546,1189.5,11,{z:22});

const option={
  animation:false,backgroundColor:'#fff',textStyle:{fontFamily:FONT},
  grid:grids,xAxis:xAxes,yAxis:yAxes,series,graphic:{elements:gfx},
  visualMap:{type:'continuous',show:false,min:-2.3,max:2.3,seriesIndex:heatIdx,dimension:2,
    inRange:{color:['#0a30ff','#2e22d0','#5a1aa0','#8f1a70','#d0203a','#ff3000']}},
  legend:[
    {data:['Decreased','Increased','NS'],orient:'vertical',left:211,top:581,z:30,itemWidth:8,itemHeight:8,itemGap:3.5,selectedMode:false,icon:'circle',padding:0,
     textStyle:{fontFamily:FONT,fontSize:11,color:'#222',lineHeight:12.5,padding:[0,0,0,-2]}},
    {data:['Decreased','Increased','NS'],orient:'vertical',left:516,top:1196,z:30,itemWidth:8,itemHeight:8,itemGap:1,selectedMode:false,icon:'circle',padding:0,
     textStyle:{fontFamily:FONT,fontSize:10.5,color:'#222',lineHeight:12.5,padding:[0,0,0,-4]}}
  ]
};
const chart=echarts.init(document.getElementById('c'),null,{renderer:'canvas',width:730,height:1278});
chart.setOption(option);
</script></body></html>
